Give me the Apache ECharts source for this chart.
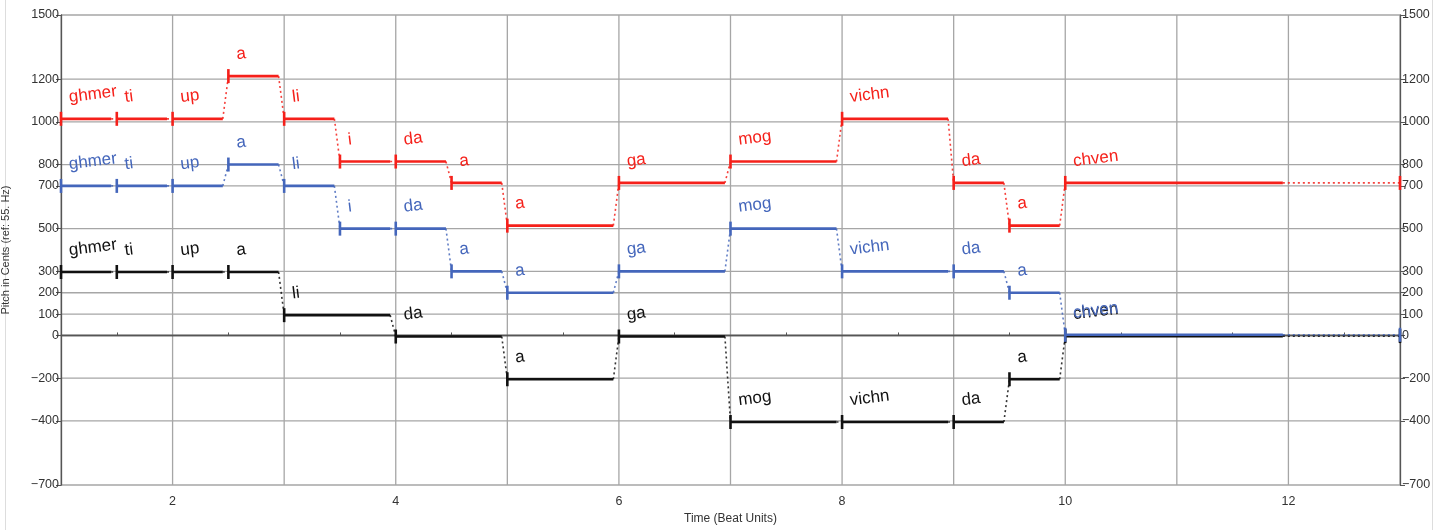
<!DOCTYPE html>
<html><head><meta charset="utf-8">
<script src="https://cdn.jsdelivr.net/npm/echarts@6/dist/echarts.min.js"></script>
<style>html,body{margin:0;padding:0;background:#fff}#c{width:1450px;height:530px}</style>
</head><body><div id="c"></div>
<script>
// ---- data ----
const yTicks = [-700, -400, -200, 0, 100, 200, 300, 500, 700, 800, 1000, 1200, 1500];
const xGridLines = [1, 2, 3, 4, 5, 6, 7, 8, 9, 10, 11, 12, 13];
const xTickLabels = [2, 4, 6, 8, 10, 12];

const redStarts = [1, 1.5, 2, 2.5, 3, 3.5, 4, 4.5, 5, 6, 7, 8, 9, 9.5, 10, 13];
const redEnds   = [1.45, 1.95, 2.45, 2.95, 3.45, 3.95, 4.45, 4.95, 5.95, 6.95, 7.95, 8.95, 9.45, 9.95, 11.95, 13];
const redPitch  = [1014, 1014, 1014, 1214, 1014, 814, 814, 714, 514, 714, 814, 1014, 714, 514, 714, 714];
const redLabels = ['ghmer', 'ti', 'up', 'a', 'li', 'i', 'da', 'a', 'a', 'ga', 'mog', 'vichn', 'da', 'a', 'chven', ''];

const blueStarts = [1, 1.5, 2, 2.5, 3, 3.5, 4, 4.5, 5, 6, 7, 8, 9, 9.5, 10, 13];
const blueEnds   = [1.45, 1.95, 2.45, 2.95, 3.45, 3.95, 4.45, 4.95, 5.95, 6.95, 7.95, 8.95, 9.45, 9.95, 11.95, 13];
const bluePitch  = [700, 700, 700, 800, 700, 500, 500, 300, 200, 300, 500, 300, 300, 200, 3, 3];
const blueLabels = ['ghmer', 'ti', 'up', 'a', 'li', 'i', 'da', 'a', 'a', 'ga', 'mog', 'vichn', 'da', 'a', 'chven', ''];

const blackStarts = [1, 1.5, 2, 2.5, 3, 4, 5, 6, 7, 8, 9, 9.5, 10, 13];
const blackEnds   = [1.45, 1.95, 2.45, 2.95, 3.95, 4.95, 5.95, 6.95, 7.95, 8.95, 9.45, 9.95, 11.95, 13];
const blackPitch  = [297, 297, 297, 297, 95, -5, -205, -5, -405, -405, -405, -205, -3, -3];
const blackLabels = ['ghmer', 'ti', 'up', 'a', 'li', 'da', 'a', 'ga', 'mog', 'vichn', 'da', 'a', 'chven', ''];

// ---- build ----
function notes(starts, ends, pitch, labels) {
  return starts.map((s, i) => ({
    value: [s, ends[i], pitch[i], i + 1 < starts.length ? starts[i + 1] : NaN, i + 1 < starts.length ? pitch[i + 1] : NaN],
    label: labels[i]
  }));
}

const FONT = '17px "Liberation Sans", Arial, sans-serif';
function voiceSeries(name, color, data, z) {
  return {
    name, type: 'custom', z, clip: false,
    data,
    renderItem(params, api) {
      const d = data[params.dataIndex];
      const [s, e, p, ns, np] = d.value;
      const a = api.coord([s, p]);
      const b = api.coord([e, p]);
      const ch = [];
      if (e > s) {
        ch.push({ type: 'line', shape: { x1: a[0], y1: a[1], x2: b[0], y2: b[1] },
          style: { stroke: color, lineWidth: 2.6 } });
      }
      ch.push({ type: 'line', shape: { x1: a[0], y1: a[1] - 7, x2: a[0], y2: a[1] + 7 },
        style: { stroke: color, lineWidth: 2.6 } });
      if (!isNaN(ns)) {
        const n = api.coord([ns, np]);
        ch.push({ type: 'line', shape: { x1: b[0], y1: b[1], x2: n[0], y2: n[1] },
          style: { stroke: color, lineWidth: 1.6, lineDash: [2, 3], opacity: 0.85 } });
      }
      if (d.label) {
        ch.push({ type: 'text', x: a[0] + 9, y: a[1] - 13, rotation: 7 * Math.PI / 180,
          style: { text: d.label, fill: color, font: FONT, align: 'left', verticalAlign: 'bottom' } });
      }
      return { type: 'group', children: ch };
    }
  };
}

const gridSeries = {
  type: 'custom', z: 0, silent: true,
  data: yTicks.map(v => ['h', v]).concat(xGridLines.map(v => ['v', v])),
  renderItem(params, api) {
    const kind = yTicks.length > params.dataIndex ? 'h' : 'v';
    const v = kind === 'h' ? yTicks[params.dataIndex] : xGridLines[params.dataIndex - yTicks.length];
    let p1, p2;
    if (kind === 'h') { p1 = api.coord([1, v]); p2 = api.coord([13, v]); }
    else { p1 = api.coord([v, -700]); p2 = api.coord([v, 1500]); }
    return { type: 'line', shape: { x1: p1[0], y1: p1[1], x2: p2[0], y2: p2[1] },
      style: { stroke: '#a6a6a6', lineWidth: 1.3 } };
  }
};

const axisText = { color: '#333', fontSize: 12.5, fontFamily: '"Liberation Sans", Arial, sans-serif' };
const yAxisBase = {
  type: 'value', min: -700, max: 1500, interval: 100,
  axisLine: { show: true, lineStyle: { color: '#555', width: 1.3 } },
  axisTick: { show: true, customValues: yTicks, length: 5, lineStyle: { color: '#555' } },
  axisLabel: Object.assign({ customValues: yTicks, margin: 2,
    formatter: v => (yTicks.indexOf(v) >= 0 ? (v < 0 ? '\u2212' + (-v) : String(v)) : '') }, axisText),
  splitLine: { show: false }
};

const chart = echarts.init(document.getElementById('c'), null, { renderer: 'canvas' });
chart.setOption({
  animation: false,
  backgroundColor: '#fff',
  grid: { left: 61, right: 50, top: 15, bottom: 45, containLabel: false, outerBoundsMode: 'none' },
  xAxis: [{
    type: 'value', min: 1, max: 13, interval: 1, position: 'bottom',
    name: 'Time (Beat Units)', nameLocation: 'middle', nameGap: 28,
    nameTextStyle: { color: '#333', fontSize: 12, fontFamily: '"Liberation Sans", Arial, sans-serif' },
    axisLine: { show: true, lineStyle: { color: '#555', width: 1.3 } },
    axisTick: { show: false, inside: true },
    minorTick: { show: true, splitNumber: 2, length: 3, lineStyle: { color: '#555' } },
    axisLabel: Object.assign({ formatter: v => (xTickLabels.indexOf(v) >= 0 ? String(v) : ''), margin: 10 }, axisText),
    splitLine: { show: false }
  }, {
    type: 'value', min: 1, max: 13, interval: 1, position: 'top',
    axisLine: { show: true, lineStyle: { color: '#555', width: 1.3 } },
    axisTick: { show: false }, axisLabel: { show: false }, splitLine: { show: false }
  }],
  yAxis: [
    Object.assign({}, yAxisBase, { position: 'left',
      name: 'Pitch in Cents (ref: 55. Hz)', nameLocation: 'middle', nameGap: 50, nameRotate: 90,
      nameTextStyle: { color: '#333', fontSize: 11, fontFamily: '"Liberation Sans", Arial, sans-serif' } }),
    Object.assign({}, yAxisBase, { position: 'right' })
  ],
  graphic: [
    { type: 'line', shape: { x1: 5.5, y1: 0, x2: 5.5, y2: 530 }, style: { stroke: '#ddd', lineWidth: 1 } },
    { type: 'line', shape: { x1: 1432.5, y1: 0, x2: 1432.5, y2: 530 }, style: { stroke: '#ddd', lineWidth: 1 } }
  ],
  series: [
    gridSeries,
    voiceSeries('black', '#111111', notes(blackStarts, blackEnds, blackPitch, blackLabels), 3),
    voiceSeries('blue', '#4466bb', notes(blueStarts, blueEnds, bluePitch, blueLabels), 4),
    voiceSeries('red', '#f5201a', notes(redStarts, redEnds, redPitch, redLabels), 5)
  ]
});
</script>
</body></html>
